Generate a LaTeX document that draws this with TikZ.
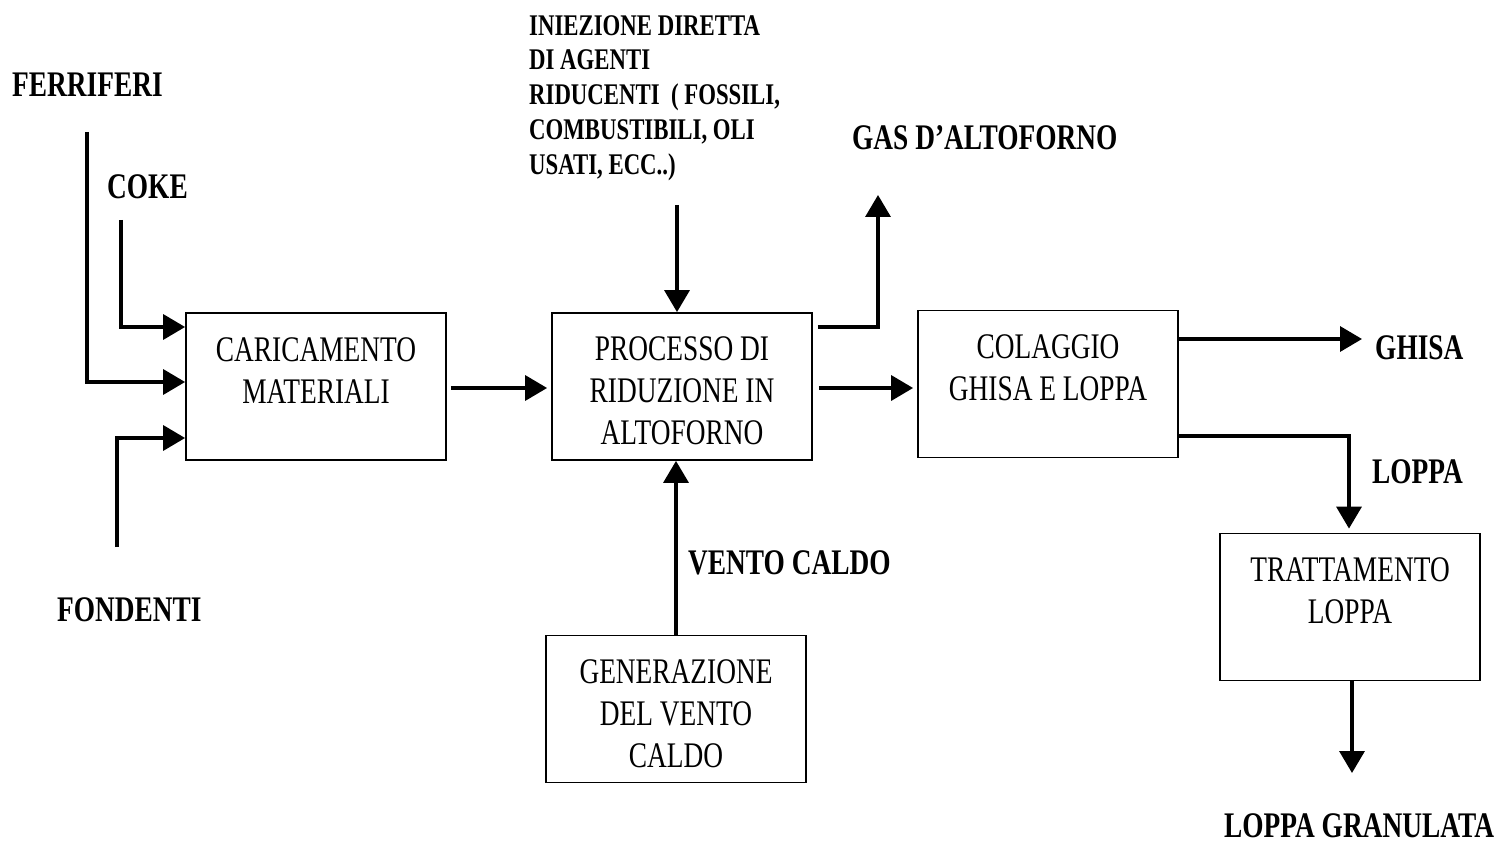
\documentclass[tikz,border=0pt]{standalone}
\usepackage{fontspec}
\setmainfont{Liberation Serif}[FakeStretch=0.76]
\usetikzlibrary{arrows.meta}
\newcommand\fstrut{\rule{0pt}{33pt}}
\begin{document}
\begin{tikzpicture}[x=1pt,y=-1pt,
  box/.style={draw,line width=1.8pt,minimum width=260pt,minimum height=147pt,inner sep=0pt,align=center,font=\fontsize{36}{42}\selectfont},
  lbl/.style={inner sep=0pt,font=\bfseries\fontsize{36}{42}\selectfont},
  flow/.style={line width=3.5pt,-{Triangle[length=22pt,width=25pt]}}]
\useasboundingbox[fill=white] (0,0) rectangle (1505,845);

% boxes
\node[box] (car) at (316,386.5) {\fstrut CARICAMENTO\\MATERIALI\\\mbox{}};
\node[box] (pro) at (682,386.5) {\fstrut PROCESSO DI\\RIDUZIONE IN\\ALTOFORNO};
\node[box] (col) at (1048,384) {\fstrut COLAGGIO\\GHISA E LOPPA\\\mbox{}};
\node[box] (tra) at (1350,607) {\fstrut TRATTAMENTO\\LOPPA\\\mbox{}};
\node[box] (gen) at (676,709) {\fstrut GENERAZIONE\\DEL VENTO\\CALDO};

% labels
\node[lbl,anchor=base west] (fer) at (12,97) {FERRIFERI};
\node[lbl,anchor=base west] (cok) at (107,199) {COKE};
\node[lbl,anchor=base west] (fon) at (57,621) {FONDENTI};
\node[lbl,anchor=base west] (gas) at (852,150) {GAS D’ALTOFORNO};
\node[lbl,anchor=base west] (ghi) at (1375,359) {GHISA};
\node[lbl,anchor=base west] (lop) at (1372,483) {LOPPA};
\node[lbl,anchor=base west] (ven) at (688,574) {VENTO CALDO};
\node[lbl,anchor=base west] (gra) at (1224,837) {LOPPA GRANULATA};
\node[lbl,font=\bfseries\fontsize{30}{34.8}\selectfont,align=left,anchor=north west] (ini) at (529,15)
  {INIEZIONE DIRETTA\\DI AGENTI\\RIDUCENTI\ \ ( FOSSILI,\\COMBUSTIBILI, OLI\\USATI, ECC..)};

% free ends
\coordinate (ferS) at (87,132);
\coordinate (cokS) at (121,220);
\coordinate (fonS) at (117,547);
\coordinate (iniS) at (677,205);
\coordinate (gasE) at (878,195);
\coordinate (ghiE) at (1362,339);
\coordinate (graE) at (1352,773);

% connectors
\draw[flow] (ferS) |- ([yshift=4.5pt]car.west);
\draw[flow] (cokS) |- ([yshift=59.5pt]car.west);
\draw[flow] (fonS) |- ([yshift=-51.5pt]car.west);
\draw[flow] ([xshift=4pt,yshift=-1.5pt]car.east) -- ([xshift=-4pt,yshift=-1.5pt]pro.west);
\draw[flow] ([xshift=6pt,yshift=-1.5pt]pro.east) -- ([xshift=-4pt,yshift=-1.5pt]pro.east -| col.west);
\draw[flow] (iniS) -- (iniS |- pro.north);
\draw[flow] ([xshift=5pt,yshift=59.5pt]pro.east) -| (gasE);
\draw[flow] (gen.north) -- (gen.north |- pro.south);
\draw[flow] ([yshift=45pt]col.east) -- (ghiE);
\draw[flow] ([yshift=-52pt]col.east) -| ([xshift=-1pt,yshift=4pt]tra.north);
\draw[flow] ([xshift=2pt]tra.south) -- (graE);
\end{tikzpicture}
\end{document}
